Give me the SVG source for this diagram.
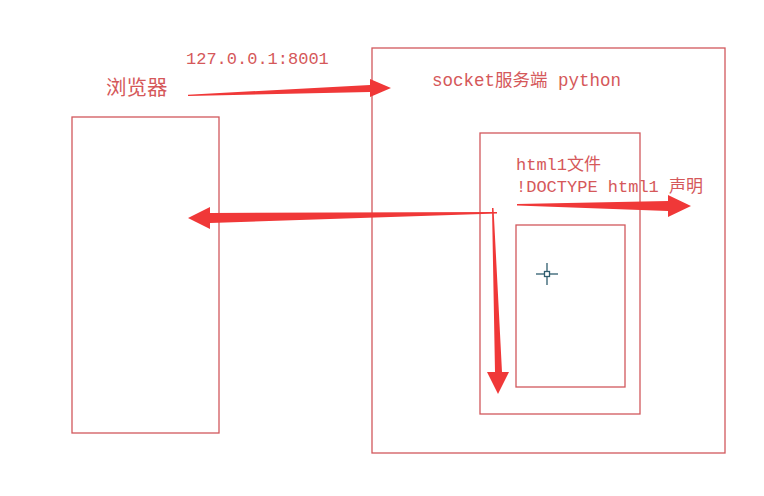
<svg xmlns="http://www.w3.org/2000/svg" width="764" height="496" viewBox="0 0 764 496">
<style>
.box{fill:none;stroke:#d2585c;stroke-width:1.3}
.t{fill:#d5585a;font-family:"Liberation Mono","Noto Sans CJK SC",monospace;font-size:17px}
.arr{fill:#f03838}
</style>
<rect width="764" height="496" fill="#ffffff"/>
<g id="browser"><rect class="box" x="72" y="117" width="147" height="316"/><text class="t" x="106" y="95" style="font-family:'Noto Sans CJK SC',sans-serif;font-size:20.5px">浏览器</text></g>
<g id="server"><rect class="box" x="372" y="48" width="353" height="405"/><text class="t" x="432" y="86" style="font-size:17.5px">socket服务端 python</text></g>
<g id="html"><rect class="box" x="480" y="133" width="160" height="281"/><text class="t" x="516" y="170">html1文件</text><text class="t" x="516" y="192">!DOCTYPE html1 声明</text></g>
<g id="inner"><rect class="box" x="516" y="225" width="109" height="162"/></g>
<g id="addr"><text class="t" x="186" y="64">127.0.0.1:8001</text></g>
<g id="cursor" stroke="#2f5d6e" stroke-width="1.3" fill="none"><line x1="547" y1="263" x2="547" y2="285"/><line x1="536" y1="274" x2="558" y2="274"/><rect x="544.5" y="271.5" width="5" height="5" fill="#fff"/></g>
<g id="connectors">
<polygon class="arr" points="188,94.7 370,85 370,79 391,88 370,97 370,92 188,96"/>
<polygon class="arr" points="497,212 210,213 210,207 188,218 210,229 210,223 497,213.5"/>
<polygon class="arr" points="517,204 668,201 668,195 691,206 668,217 668,211 517,205.5"/>
<polygon class="arr" points="492,208 495,372 487,372 498,394 509,372 502,372 493.5,208"/>
</g>
</svg>
